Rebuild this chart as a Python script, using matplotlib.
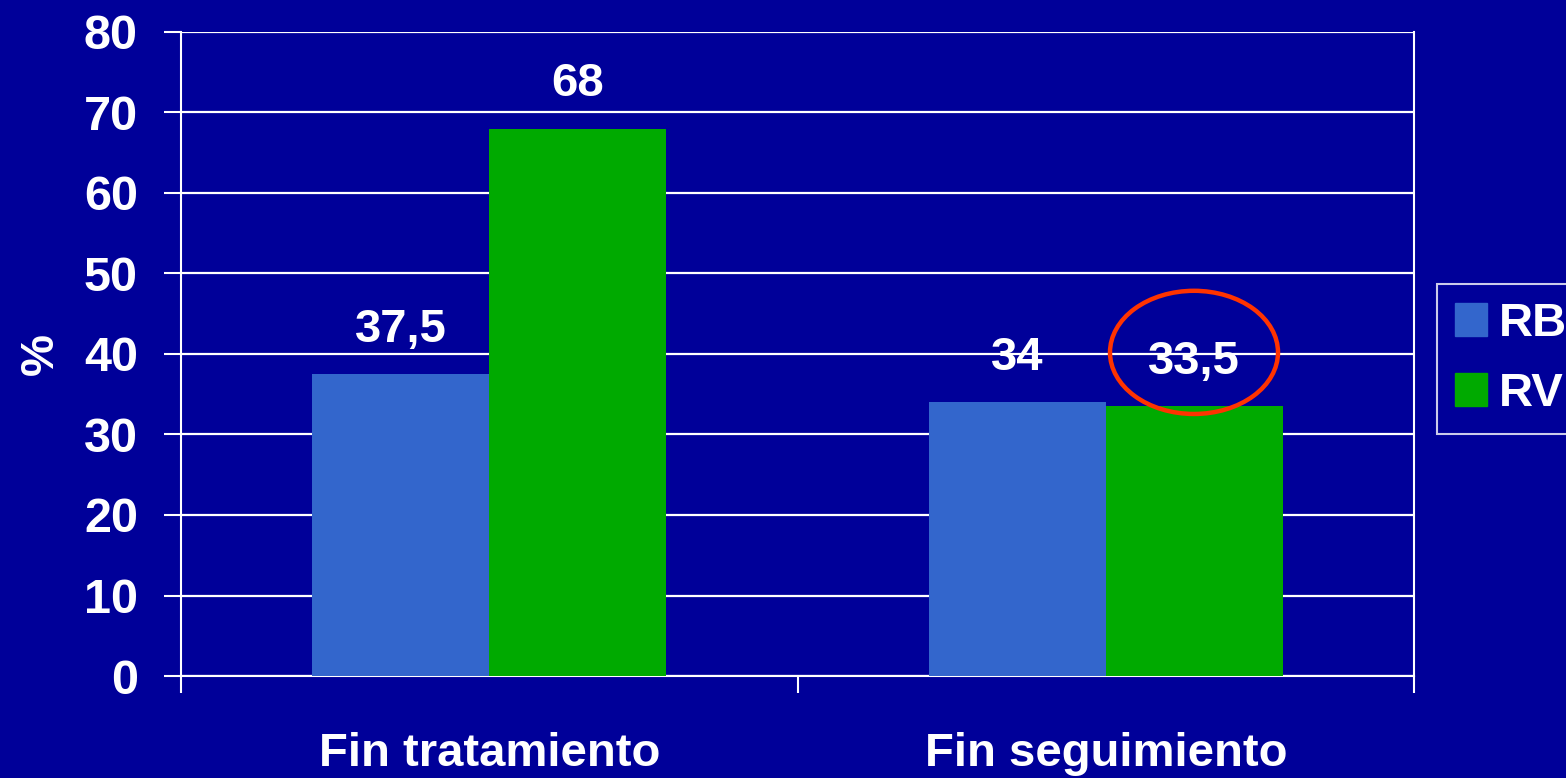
import matplotlib.pyplot as plt
from matplotlib.patches import Ellipse, Patch

# ==============================
# DATA
# ==============================
categories = ["Fin tratamiento", "Fin seguimiento"]
series_names = ["RB", "RV"]
rb_values = [37.5, 34]
rv_values = [68, 33.5]
rb_labels = ["37,5", "34"]
rv_labels = ["68", "33,5"]
y_ticks = [0, 10, 20, 30, 40, 50, 60, 70, 80]

# ==============================
# STYLE
# ==============================
bg = "#000099"
col_rb = "#3366CC"
col_rv = "#00AA00"
col_ring = "#FF3300"
plt.rcParams["font.family"] = ["Liberation Sans", "DejaVu Sans"]
plt.rcParams["font.weight"] = "bold"

fig = plt.figure(figsize=(15.66, 7.78), dpi=100, facecolor=bg)
ax = fig.add_axes([0.1156, 0.1311, 0.903 - 0.1156, 0.9589 - 0.1311])
ax.set_facecolor(bg)

x = list(range(len(categories)))
w = 0.287
bars_rb = ax.bar([i - w / 2 for i in x], rb_values, w, color=col_rb, zorder=3, label=series_names[0])
bars_rv = ax.bar([i + w / 2 for i in x], rv_values, w, color=col_rv, zorder=3, label=series_names[1])

for bars, labels in [(bars_rb, rb_labels), (bars_rv, rv_labels)]:
    for b, lab in zip(bars, labels):
        ax.annotate(lab, (b.get_x() + b.get_width() / 2, b.get_height()),
                    xytext=(0, 32), textcoords="offset points",
                    ha="center", va="center", color="white",
                    fontsize=34, fontweight="bold", zorder=5)

# highlight ring around the second RV label
ring = Ellipse((1.143, 40.2), 0.2725, 15.3, fill=False, edgecolor=col_ring,
               lw=3.2, zorder=6, clip_on=False)
ax.add_patch(ring)

ax.set_xlim(-0.5, 1.5)
ax.set_ylim(0, 80)
ax.set_yticks(y_ticks)
ax.set_yticklabels([str(v) for v in y_ticks])
ax.yaxis.grid(True, color="white", lw=1.6, zorder=1)

ax.set_xticks([-0.5, 0.5, 1.5])
ax.set_xticklabels([])
ax.set_xticks(x, minor=True)
ax.set_xticklabels(categories, minor=True)
ax.tick_params(axis="x", which="major", length=12, width=1.5, color="white", direction="out")
ax.tick_params(axis="x", which="minor", length=0, pad=40, labelsize=34, labelcolor="white")
ax.tick_params(axis="y", length=12, width=1.5, color="white", pad=19, labelsize=35, labelcolor="white")

for s in ["left", "right", "bottom"]:
    ax.spines[s].set_color("white")
    ax.spines[s].set_linewidth(1.5)
ax.spines["top"].set_visible(False)

ax.set_ylabel("%", color="white", fontsize=34, fontweight="bold", labelpad=15)

handles = [Patch(color=col_rb, label=series_names[0]), Patch(color=col_rv, label=series_names[1])]
leg = ax.legend(handles=handles, loc="upper left", bbox_to_anchor=(1.0187, 0.6087),
                borderaxespad=0, fancybox=False, frameon=True, fontsize=34,
                handlelength=0.68, handleheight=0.68, handletextpad=0.25,
                labelspacing=0.55, borderpad=0.38)
leg.get_frame().set_facecolor(bg)
leg.get_frame().set_edgecolor("white")
leg.get_frame().set_linewidth(1.5)
for t in leg.get_texts():
    t.set_color("white")
    t.set_fontweight("bold")

fig.savefig("out.png", dpi=100, facecolor=bg)
